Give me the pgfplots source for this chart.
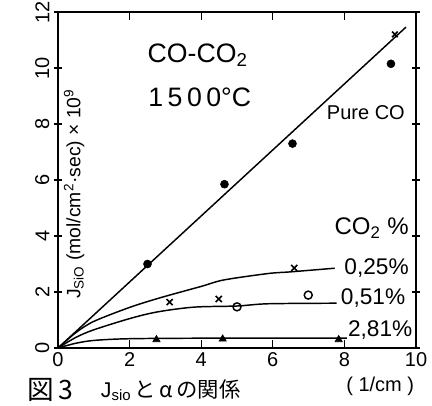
\documentclass[border=0pt]{standalone}
\usepackage{fontspec}
\setmainfont{Liberation Sans}
\newfontfamily\jp{Noto Sans CJK JP}
\usepackage{pgfplots}
\pgfplotsset{compat=1.18}

\begin{document}
\begin{tikzpicture}
\begin{axis}[
  at={(43.5pt,42.75pt)}, anchor=south west,
  scale only axis, width=268.5pt, height=252pt,
  xmin=0, xmax=10, ymin=0, ymax=12,
  xtick={0,2,4,6,8,10}, ytick={0,2,4,6,8,10,12},
  axis line style={line width=1.3pt},
  x tick style={line width=1pt, black}, y tick style={line width=1pt, black},
  xtick align=inside, ytick align=center,
  major tick length=6pt,
  tick label style={font=\fontsize{15}{15}\selectfont},
  yticklabel style={rotate=90, anchor=south},
  /pgf/number format/assume math mode=true,
  clip=false,
]
% Pure CO
\addplot[line width=1.1pt] coordinates {(0,0) (9.72,11.46)};
\addplot[only marks, mark=*, mark size=3pt] coordinates {(2.5,3.0) (4.65,5.85) (6.55,7.3) (9.3,10.15)};
\addplot[only marks, mark=x, mark size=3pt, line width=1.2pt] coordinates {(9.41,11.2)};
% CO2 0.25 %
\addplot[line width=1.1pt, smooth] coordinates {(0,0) (0.5,0.55) (1,0.95) (2,1.45) (2.87,1.8) (4,2.2) (4.63,2.43) (5.87,2.66) (6.5,2.72) (7.73,2.85)};
\addplot[only marks, mark=x, mark size=3.2pt, line width=1.2pt] coordinates {(3.12,1.64) (4.49,1.75) (6.6,2.86)};
% CO2 0.51 %
\addplot[line width=1.1pt, smooth] coordinates {(0,0) (0.5,0.38) (1,0.65) (2,1.05) (2.78,1.29) (3.8,1.46) (5.0,1.5) (5.87,1.58) (7.78,1.6)};
\addplot[only marks, mark=o, mark size=3pt, line width=1.1pt] coordinates {(5.0,1.47) (6.99,1.89)};
% CO2 2.81 %
\addplot[line width=1.1pt, smooth] coordinates {(0,0) (0.5,0.17) (1,0.27) (1.94,0.33) (4,0.35) (8.2,0.35)};
\addplot[only marks, mark=triangle*, mark size=3.2pt] coordinates {(2.75,0.3) (4.6,0.32) (7.84,0.3)};

\node[font=\fontsize{20}{20}\selectfont] at (axis cs:3.9,10.46) {CO-CO\textsubscript{2}};
\node[font=\fontsize{20}{20}\selectfont] at (axis cs:3.96,8.96) {1\,5\,0\,0°C};
\node[font=\fontsize{15}{15}\selectfont] at (axis cs:8.6,8.4) {Pure CO};
\node[font=\fontsize{18}{18}\selectfont] at (axis cs:8.76,4.29) {CO\textsubscript{2} \%};
\node[font=\fontsize{17}{17}\selectfont, fill=white, inner sep=1pt] at (axis cs:8.9,2.86) {0,25\%};
\node[font=\fontsize{17}{17}\selectfont, fill=white, inner sep=1pt] at (axis cs:8.8,1.79) {0,51\%};
\node[font=\fontsize{17}{17}\selectfont, fill=white, inner sep=1pt] at (axis cs:9.0,0.64) {2,81\%};
\node[rotate=90, font=\fontsize{14.5}{14.5}\selectfont] at (axis cs:0.45,5.5)
  {J\textsubscript{SiO} (mol/cm\textsuperscript{2}·sec) × 10\textsuperscript{9}};
\node[font=\fontsize{15}{15}\selectfont] at (axis cs:9.0,-1.36) {( 1/cm )};
\node[font=\fontsize{20}{20}\selectfont] at (axis cs:-0.22,-1.5) {\jp 図\,3};
\node[font=\fontsize{16}{16}\selectfont] at (axis cs:3.15,-1.5) {J\textsubscript{sio}\,{\jp と\,α\,の関係}};
\end{axis}
\pgfresetboundingbox
\path[use as bounding box] (0,0) rectangle (324pt,303.75pt);
\end{tikzpicture}
\end{document}
